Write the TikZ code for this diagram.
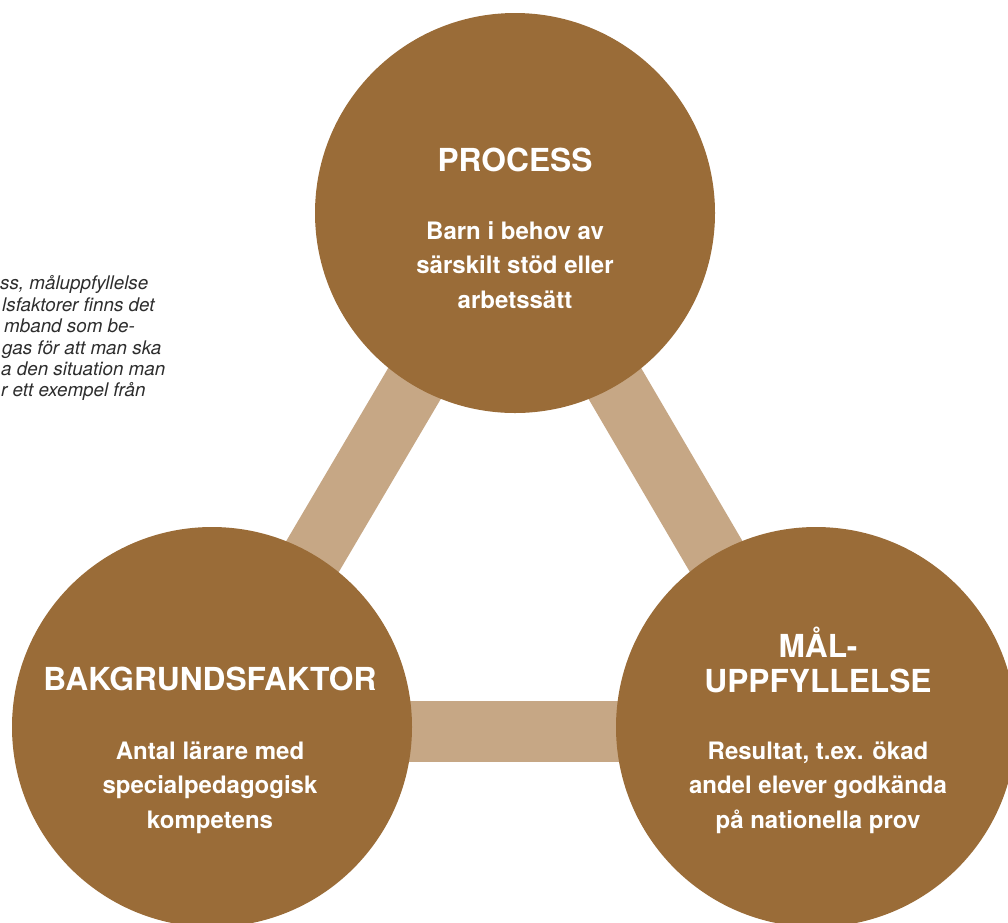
\documentclass[tikz,border=0pt]{standalone}
\usepackage{fontspec}
\setmainfont{TeX Gyre Heros}
\definecolor{circbrown}{RGB}{154,108,56}
\definecolor{bartan}{RGB}{198,167,133}
\definecolor{notegray}{RGB}{45,45,45}
\begin{document}
\begin{tikzpicture}[x=1pt,y=-1pt,
  circ/.style={circle, fill=circbrown, minimum size=400pt, inner sep=0pt},
  bar/.style={draw=bartan, line width=61pt},
  title/.style={text=white, font=\bfseries\fontsize{31.7}{35}\selectfont, align=center, anchor=base, inner sep=0pt},
  body/.style={text=white, font=\bfseries\fontsize{24}{34.5}\selectfont, align=center, anchor=base, inner sep=0pt},
  note/.style={text=notegray, font=\itshape\fontsize{18.8}{21.3}\selectfont, align=left, anchor=base west, inner sep=0pt}]
\useasboundingbox (0,0) rectangle (1008,922);
\clip (0,0) rectangle (1008,922);
\coordinate (pc) at (515,213);
\coordinate (bc) at (212,727);
\coordinate (mc) at (816,727);
\coordinate (bc2) at (212,731);
\coordinate (mc2) at (816,731);
\draw[bar] (pc) -- (bc);
\draw[bar] (pc) -- (mc);
\draw[bar] (bc2) -- (mc2);
\node[circ] (proc) at (pc) {};
\node[circ] (bakg) at (bc) {};
\node[circ] (malu) at (mc) {};
\node[title] (proct) at (515,171) {PROCESS};
\node[body] (procb) at (515,308) {Barn i behov av\\särskilt stöd eller\\arbetssätt};
\node[title] (bakgt) at (210,690) {BAKGRUNDSFAKTOR};
\node[body] (bakgb) at (210,828) {Antal lärare med\\specialpedagogisk\\kompetens};
\node[title] (malut) at (818,692) {MÅL-\\UPPFYLLELSE};
\node[body] (malub) at (818,828) {Resultat, t.ex. ökad\\andel elever godkända\\på nationella prov};
\node[note] (n1) at (0,289) {ss, måluppfyllelse};
\node[note] (n2) at (2,311) {lsfaktorer finns det};
\node[note] (n3) at (4,332) {mband som be-};
\node[note] (n4) at (2,354) {gas för att man ska};
\node[note] (n5) at (1,375) {a den situation man};
\node[note] (n6) at (1,396) {r ett exempel från};
\end{tikzpicture}
\end{document}
